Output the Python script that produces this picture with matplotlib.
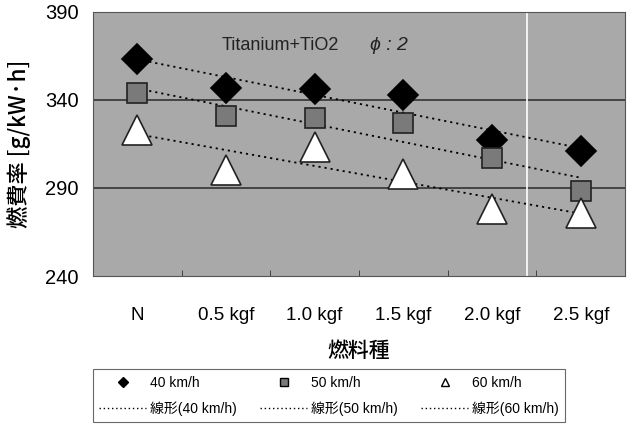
import numpy as np
import matplotlib
matplotlib.use("Agg")
import matplotlib.pyplot as plt
from matplotlib.lines import Line2D

plt.rcParams['font.family'] = ['Liberation Sans', 'Noto Sans CJK JP', 'DejaVu Sans']

# data
categories = ["N", "0.5 kgf", "1.0 kgf", "1.5 kgf", "2.0 kgf", "2.5 kgf"]
speed_labels = ["40 km/h", "50 km/h", "60 km/h"]
v40 = [363, 347, 346, 343, 317, 311]
v50 = [344, 331, 330, 327, 307, 288]
v60 = [323, 300, 313, 298, 278, 276]
yticks = [240, 290, 340, 390]

fig = plt.figure(figsize=(6.27, 4.24), dpi=100)
ax = fig.add_axes([0.148, 0.349, 0.849, 0.623])
ax.set_facecolor("#a9a9a9")

x = np.arange(len(categories))
series = [
    (v40, "D", "black", 15, "black"),
    (v50, "s", "#7a7a7a", 15, "#222222"),
    (v60, "^", "white", 21, "#222222"),
]

# trend lines (linear fit) under the markers
for vals, *_ in series:
    k, b = np.polyfit(x, vals, 1)
    ax.plot(x, k * x + b, linestyle=(0, (1.2, 2.2)), color="black", lw=1.3, zorder=2)

for vals, mk, fc, ms, ec in series:
    ax.plot(x, vals, linestyle="none", marker=mk, markersize=ms,
            markerfacecolor=fc, markeredgecolor=ec, markeredgewidth=1.2, zorder=3)

ax.set_xlim(-0.5, len(categories) - 0.5)
ax.set_ylim(240, 390)
ax.set_yticks(yticks)
ax.set_yticklabels([str(t) for t in yticks], fontsize=14.5)
ax.set_xticks(x)
ax.set_xticklabels(categories, fontsize=13.5)
ax.set_xticks(np.arange(0.5, len(categories) - 1, 1.0), minor=True)
ax.tick_params(axis="x", which="major", length=0, pad=22)
ax.tick_params(axis="x", which="minor", length=4, direction="in", color="#333333")
ax.tick_params(axis="y", length=0, pad=10)
for t in yticks[1:3]:
    ax.axhline(t, color="#333333", lw=1.2, zorder=1)
for s in ax.spines.values():
    s.set_color("#555555")
    s.set_linewidth(0.8)

# scan artefact: thin white vertical line
ax.axvline(4.39, color="white", lw=1.2, zorder=1)

ax.text(0.95, 371, "Titanium+TiO2", fontsize=13, color="#222222", va="center")
ax.text(2.62, 371, "\u03d5 : 2", fontsize=14, color="#222222", va="center", style="italic")

cjk = ['Noto Sans CJK JP', 'DejaVu Sans']
ax.set_ylabel("燃費率 [g/kW\u00b7h]", fontsize=16, labelpad=10, family=cjk, fontweight="medium")
ax.set_xlabel("燃料種", fontsize=15, labelpad=12, family=cjk, fontweight="medium")

handles = []
labels = []
for (vals, mk, fc, ms, ec), lab in zip(series, speed_labels):
    handles.append(Line2D([], [], linestyle="none", marker=mk,
                          markersize=5 if mk == "D" else 6,
                          markerfacecolor=fc, markeredgecolor="black", markeredgewidth=1.0))
    labels.append(lab)
    handles.append(Line2D([], [], linestyle=(0, (1, 2)), color="black", lw=1.0))
    labels.append("線形(" + lab + ")")

leg = fig.legend(handles, labels, ncol=3, loc="lower left",
                 bbox_to_anchor=(0.148, 0.004, 0.753, 0.130), mode="expand",
                 frameon=True, fancybox=False, edgecolor="#444444",
                 handlelength=3.4, handletextpad=0.25, borderpad=0.45,
                 borderaxespad=0.0, labelspacing=0.85, columnspacing=0.6,
                 prop={'family': ['Liberation Sans', 'Noto Sans CJK JP'], 'size': 10})
leg.get_frame().set_linewidth(0.8)

fig.savefig("out.png", dpi=100)
